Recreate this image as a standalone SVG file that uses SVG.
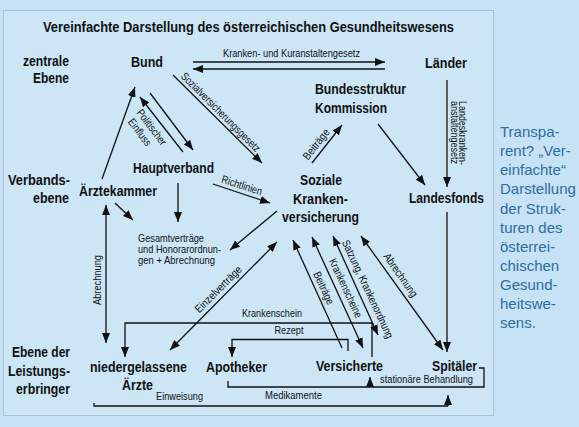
<svg xmlns="http://www.w3.org/2000/svg" width="579" height="427" viewBox="0 0 579 427">
<defs>
<style>
.n{font-family:"Liberation Sans Narrow","Arial Narrow","Liberation Sans",Arial,sans-serif;font-stretch:condensed;font-weight:bold;font-size:15px;fill:#111}
.s{font-family:"Liberation Sans Narrow","Arial Narrow","Liberation Sans",Arial,sans-serif;font-stretch:condensed;font-size:11px;fill:#111}
.e{text-anchor:end}
.m{text-anchor:middle}
.c line,.c path{stroke:#111;stroke-width:1.3;fill:none}
.a{marker-end:url(#ah)}
.d{marker-end:url(#ah);marker-start:url(#ah)}
.side{font-family:"Liberation Sans",Arial,sans-serif;font-size:15px;fill:#2e6ca3}
</style>
<marker id="ah" viewBox="0 0 10 8" refX="10" refY="4" markerWidth="10" markerHeight="8" markerUnits="userSpaceOnUse" orient="auto-start-reverse">
<path d="M0,0 L10,4 L0,8 Z" fill="#111"/>
</marker>
</defs>
<rect x="0" y="0" width="579" height="427" fill="#c6e2f4"/>
<rect x="3.5" y="10.5" width="490" height="405" fill="#cce6f6" stroke="#a9c3d6" stroke-width="1"/>

<text class="n m" x="248.5" y="32" textLength="411" lengthAdjust="spacingAndGlyphs">Vereinfachte Darstellung des österreichischen Gesundheitswesens</text>

<g id="lvl-zentral"><text class="n e" x="69" y="66" textLength="46" lengthAdjust="spacingAndGlyphs">zentrale</text><text class="n e" x="69" y="83" textLength="36" lengthAdjust="spacingAndGlyphs">Ebene</text></g>
<g id="lvl-verband"><text class="n e" x="70" y="185" textLength="62" lengthAdjust="spacingAndGlyphs">Verbands-</text><text class="n e" x="69" y="203" textLength="36" lengthAdjust="spacingAndGlyphs">ebene</text></g>
<g id="lvl-leistung"><text class="n e" x="70" y="357" textLength="58" lengthAdjust="spacingAndGlyphs">Ebene der</text><text class="n e" x="70" y="376" textLength="62" lengthAdjust="spacingAndGlyphs">Leistungs-</text><text class="n e" x="70" y="394" textLength="54" lengthAdjust="spacingAndGlyphs">erbringer</text></g>

<g id="bund"><text class="n" x="131" y="67" textLength="32" lengthAdjust="spacingAndGlyphs">Bund</text></g>
<g id="laender"><text class="n" x="425" y="68" textLength="42" lengthAdjust="spacingAndGlyphs">Länder</text></g>
<g id="bsk"><text class="n" x="315" y="94" textLength="91" lengthAdjust="spacingAndGlyphs">Bundesstruktur</text><text class="n" x="315" y="113" textLength="72" lengthAdjust="spacingAndGlyphs">Kommission</text></g>
<g id="hauptverband"><text class="n" x="133" y="173" textLength="81" lengthAdjust="spacingAndGlyphs">Hauptverband</text></g>
<g id="aerztekammer"><text class="n" x="79" y="196" textLength="78" lengthAdjust="spacingAndGlyphs">Ärztekammer</text></g>
<g id="skv"><text class="n m" x="321" y="185" textLength="42" lengthAdjust="spacingAndGlyphs">Soziale</text><text class="n m" x="320.5" y="204" textLength="55" lengthAdjust="spacingAndGlyphs">Kranken-</text><text class="n m" x="320.5" y="222" textLength="77" lengthAdjust="spacingAndGlyphs">versicherung</text></g>
<g id="landesfonds"><text class="n" x="409" y="203" textLength="75" lengthAdjust="spacingAndGlyphs">Landesfonds</text></g>
<g id="gesamtvertraege"><text class="s" x="138" y="242" textLength="66" lengthAdjust="spacingAndGlyphs">Gesamtverträge</text><text class="s" x="138" y="253" textLength="83" lengthAdjust="spacingAndGlyphs">und Honorarordnun-</text><text class="s" x="138" y="264" textLength="77" lengthAdjust="spacingAndGlyphs">gen + Abrechnung</text></g>
<g id="aerzte"><text class="n" x="90" y="372" textLength="97" lengthAdjust="spacingAndGlyphs">niedergelassene</text><text class="n" x="122" y="390" textLength="31" lengthAdjust="spacingAndGlyphs">Ärzte</text></g>
<g id="apotheker"><text class="n" x="206" y="372" textLength="61" lengthAdjust="spacingAndGlyphs">Apotheker</text></g>
<g id="versicherte"><text class="n" x="316" y="371" textLength="67" lengthAdjust="spacingAndGlyphs">Versicherte</text></g>
<g id="spitaeler"><text class="n" x="432" y="371" textLength="45" lengthAdjust="spacingAndGlyphs">Spitäler</text></g>

<g id="connectors" class="c">
<line class="a" x1="193" y1="62" x2="385" y2="62"/>
<line class="a" x1="385" y1="69" x2="193" y2="69"/>
<line class="a" x1="173" y1="75" x2="262" y2="163"/>
<line class="a" x1="183" y1="152" x2="140" y2="97"/>
<line class="a" x1="150" y1="93" x2="193" y2="150"/>
<line class="a" x1="102" y1="179" x2="135" y2="87"/>
<line class="a" x1="178" y1="183" x2="178" y2="222"/>
<line class="a" x1="115" y1="203" x2="133" y2="220"/>
<line class="a" x1="213" y1="184" x2="270" y2="203"/>
<line class="a" x1="277" y1="211" x2="230" y2="250"/>
<line class="a" x1="312" y1="163" x2="342" y2="125"/>
<line class="a" x1="378" y1="124" x2="425" y2="185"/>
<line class="a" x1="447" y1="80" x2="447" y2="187"/>
<line class="a" x1="447" y1="212" x2="447" y2="352"/>
<line class="d" x1="361" y1="236" x2="443" y2="350"/>
<line class="d" x1="333" y1="236" x2="378" y2="335"/>
<line class="d" x1="312" y1="237" x2="363" y2="348"/>
<line class="a" x1="342" y1="348" x2="293" y2="240"/>
<line class="d" x1="277" y1="242" x2="170" y2="350"/>
<line class="d" x1="106" y1="205" x2="106" y2="343"/>
<path class="a" d="M372,357 V323 H125 V357"/>
<path class="a" d="M348,351 V339.5 H232 V357"/>
<path d="M228,381 V387 H484 V368 H479"/>
<line class="a" x1="370" y1="387" x2="370" y2="377"/>
<path d="M94,403 V406 H448"/>
<line class="a" x1="448" y1="406" x2="448" y2="395"/>

<text class="s m" x="291.5" y="57" textLength="137" lengthAdjust="spacingAndGlyphs">Kranken- und Kuranstaltengesetz</text>
<text class="s m" transform="translate(221,112) rotate(45)" y="4" textLength="107" lengthAdjust="spacingAndGlyphs">Sozialversicherungsgesetz</text>
<text class="s m" transform="translate(152,127) rotate(53)" y="4" textLength="42" lengthAdjust="spacingAndGlyphs">Politischer</text>
<text class="s m" transform="translate(140,132) rotate(53)" y="4" textLength="31" lengthAdjust="spacingAndGlyphs">Einfluss</text>
<text class="s m" transform="translate(242,185) rotate(18)" y="4" textLength="42" lengthAdjust="spacingAndGlyphs">Richtlinien</text>
<text class="s m" transform="translate(316,144) rotate(-52)" y="4" textLength="36" lengthAdjust="spacingAndGlyphs">Beiträge</text>
<text class="s" transform="translate(463,101) rotate(90)" y="4" textLength="64" lengthAdjust="spacingAndGlyphs">Landeskranken-</text>
<text class="s" transform="translate(454.5,101) rotate(90)" y="4" textLength="63" lengthAdjust="spacingAndGlyphs">anstaltengesetz</text>
<text class="s m" transform="translate(218,289) rotate(-45)" y="4" textLength="61" lengthAdjust="spacingAndGlyphs">Einzelverträge</text>
<text class="s m" transform="translate(97,280) rotate(-90)" y="4" textLength="50" lengthAdjust="spacingAndGlyphs">Abrechnung</text>
<text class="s m" transform="translate(324,288) rotate(65)" y="4" textLength="35" lengthAdjust="spacingAndGlyphs">Beiträge</text>
<text class="s m" transform="translate(346,288) rotate(65)" y="4" textLength="64" lengthAdjust="spacingAndGlyphs">Krankenscheine</text>
<text class="s m" transform="translate(368,289) rotate(65)" y="4" textLength="107" lengthAdjust="spacingAndGlyphs">Satzung, Krankenordnung</text>
<text class="s m" transform="translate(401,275) rotate(55)" y="4" textLength="51" lengthAdjust="spacingAndGlyphs">Abrechnung</text>
<text class="s m" x="272" y="317" textLength="60" lengthAdjust="spacingAndGlyphs">Krankenschein</text>
<text class="s m" x="289" y="334" textLength="29" lengthAdjust="spacingAndGlyphs">Rezept</text>
<text class="s m" x="426.5" y="383" textLength="93" lengthAdjust="spacingAndGlyphs">stationäre Behandlung</text>
<text class="s m" x="293.5" y="399" textLength="57" lengthAdjust="spacingAndGlyphs">Medikamente</text>
<text class="s m" x="179.5" y="400" textLength="47" lengthAdjust="spacingAndGlyphs">Einweisung</text>
</g>

<g id="sidenote">
<text class="side" x="500" y="137">Transpa-</text>
<text class="side" x="500" y="156">rent? „Ver-</text>
<text class="side" x="500" y="175">einfachte“</text>
<text class="side" x="500" y="194">Darstellung</text>
<text class="side" x="500" y="213.5">der Struk-</text>
<text class="side" x="500" y="232.5">turen des</text>
<text class="side" x="500" y="251.5">österrei-</text>
<text class="side" x="500" y="270.5">chischen</text>
<text class="side" x="500" y="289.5">Gesund-</text>
<text class="side" x="500" y="308.5">heitswe-</text>
<text class="side" x="500" y="328">sens.</text>
</g>
</svg>
